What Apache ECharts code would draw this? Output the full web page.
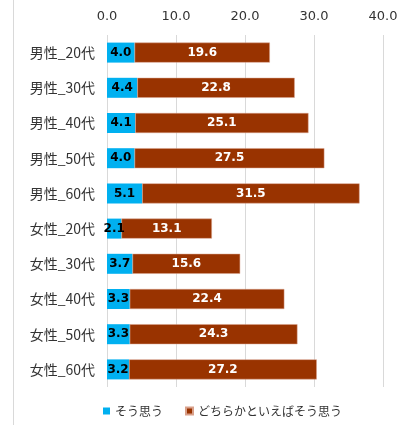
<!DOCTYPE html>
<html>
<head>
<meta charset="utf-8">
<script src="https://cdn.jsdelivr.net/npm/echarts@6/dist/echarts.min.js"></script>
<style>
  html, body { margin: 0; padding: 0; background: #fff; }
  #chart { width: 415px; height: 425px; }
</style>
</head>
<body>
<div id="chart"></div>
<script>
const categories = ['男性_20代', '男性_30代', '男性_40代', '男性_50代', '男性_60代',
                    '女性_20代', '女性_30代', '女性_40代', '女性_50代', '女性_60代'];
const agree = [4.0, 4.4, 4.1, 4.0, 5.1, 2.1, 3.7, 3.3, 3.3, 3.2];
const ratherAgree = [19.6, 22.8, 25.1, 27.5, 31.5, 13.1, 15.6, 22.4, 24.3, 27.2];
const seriesNames = ['そう思う', 'どちらかといえばそう思う'];

const fontFamily = '"Noto Sans CJK JP", "Noto Sans", sans-serif';
const numFont = '"DejaVu Sans", Verdana, sans-serif';

const chart = echarts.init(document.getElementById('chart'));
chart.setOption({
    animation: false,
    textStyle: { fontFamily: fontFamily },
    grid: { left: 107, right: 32, top: 35, bottom: 38 },
    xAxis: {
        type: 'value',
        position: 'top',
        min: 0,
        max: 40,
        interval: 10,
        axisLine: { show: false },
        axisTick: { show: false },
        axisLabel: {
            color: '#333',
            fontSize: 13,
            fontFamily: numFont,
            margin: 12,
            formatter: function (v) { return v.toFixed(1); }
        },
        splitLine: { lineStyle: { color: '#d9d9d9', width: 1 } }
    },
    yAxis: {
        type: 'category',
        inverse: true,
        data: categories,
        axisLine: { show: false },
        axisTick: { show: false },
        axisLabel: { color: '#333', fontSize: 14, margin: 12 }
    },
    legend: {
        bottom: 3,
        left: 98,
        itemWidth: 7,
        itemHeight: 7,
        itemGap: 22,
        icon: 'rect',
        textStyle: { color: '#333', fontSize: 12, fontFamily: fontFamily },
        data: seriesNames
    },
    graphic: [{
        type: 'line',
        shape: { x1: 13.5, y1: 0, x2: 13.5, y2: 425 },
        style: { stroke: '#d9d9d9', lineWidth: 1 }
    }],
    series: [
        {
            name: seriesNames[0],
            type: 'bar',
            stack: 'total',
            barWidth: 20,
            data: agree,
            itemStyle: { color: '#00B0F0' },
            label: {
                show: true,
                position: 'inside',
                color: '#000',
                fontWeight: 'bold',
                fontSize: 12,
                fontFamily: numFont,
                formatter: function (p) { return p.value.toFixed(1); }
            }
        },
        {
            name: seriesNames[1],
            type: 'bar',
            stack: 'total',
            barWidth: 20,
            data: ratherAgree,
            itemStyle: { color: '#993300', borderColor: '#d9a08a', borderWidth: 0.5 },
            label: {
                show: true,
                position: 'inside',
                color: '#fff',
                fontWeight: 'bold',
                fontSize: 12,
                fontFamily: numFont,
                formatter: function (p) { return p.value.toFixed(1); }
            }
        }
    ]
});
window.addEventListener('resize', function () {
    chart.resize();
});
</script>
</body>
</html>
